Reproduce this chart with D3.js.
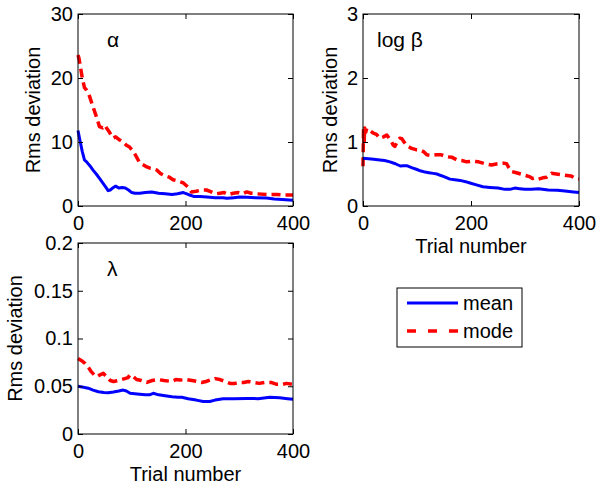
<!DOCTYPE html>
<html>
<head>
<meta charset="utf-8">
<script src="https://cdn.jsdelivr.net/npm/d3@7"></script>
<style>
  html, body { margin: 0; padding: 0; background: #fff; }
  svg { display: block; }
  text { font-family: "Liberation Sans", Arial, sans-serif; fill: #000; }
</style>
</head>
<body>
<svg id="chart" width="603" height="489"></svg>
<script>
// ---------- data ----------
const xTicks = [0, 200, 400];

const alphaTicks = [0, 10, 20, 30];
const alphaMeanT = [0,3,8,12,16,22,28,34,40,46,52,56,60,66,70,76,82,88,94,100,106,115,125,137,150,162,175,185,196,205,215,227,240,255,270,277,290,301,315,330,351,365,380,400];
const alphaMeanV = [11.8,10.5,8.5,7.2,6.9,6.3,5.6,5.0,4.3,3.6,2.9,2.4,2.5,2.9,3.1,2.8,2.9,2.8,2.5,2.1,2.0,2.0,2.1,2.2,2.0,1.9,1.8,1.9,2.1,1.8,1.5,1.5,1.4,1.3,1.3,1.2,1.3,1.4,1.35,1.3,1.25,1.1,1.0,0.9];
const alphaModeT = [0,2,4,8,12,16,20,24,28,34,40,46,50,53,58,65,70,76,84,90,96,103,108,115,122,128,134,140,147,153,160,170,177,186,196,204,211,220,230,239,248,256,264,272,280,289,298,306,314,322,333,351,370,385,400];
const alphaModeV = [23.6,23,22,20,18.5,18.1,17.5,16.5,15.5,14,12.4,12.2,12.6,12.2,11.6,10.6,10.8,10.4,10,9.5,9.2,8.5,7.8,6.7,6.4,6.1,5.9,5.8,5.6,5.1,4.8,4.5,4.1,3.9,3.6,3.0,2.2,2.3,2.5,2.5,2.2,1.9,2.0,2.1,1.8,2.0,2.1,1.9,2.2,2.0,1.9,1.8,1.8,1.7,1.7];

const betaTicks = [0, 1, 2, 3];
const betaMeanT = [0,10,20,31,40,50,60,69,75,81,90,100,106,115,122,130,137,143,150,161,170,180,190,198,210,222,235,250,263,272,281,290,300,312,325,343,360,374,390,400];
const betaMeanV = [0.745,0.74,0.73,0.72,0.71,0.69,0.66,0.625,0.63,0.63,0.6,0.57,0.55,0.53,0.52,0.51,0.5,0.48,0.46,0.42,0.41,0.40,0.38,0.36,0.33,0.30,0.29,0.28,0.26,0.26,0.28,0.27,0.26,0.26,0.27,0.25,0.245,0.235,0.22,0.21];
const betaModeT = [0,1,2,3,5,7,12,19,25,31,38,44,49,53,56,59,63,68,72,80,90,98,106,112,118,127,136,145,155,165,174,183,192,203,214,226,238,249,260,266,270,275,284,292,300,308,314,319,325,333,340,349,358,366,374,385,392,400];
const betaModeV = [0.62,1.2,0.95,1.22,1.15,1.21,1.18,1.14,1.12,1.06,1.08,1.11,1.05,1.0,0.95,0.93,1.0,1.06,1.05,0.95,0.9,0.88,0.875,0.85,0.8,0.79,0.8,0.8,0.77,0.76,0.72,0.71,0.69,0.7,0.69,0.66,0.64,0.66,0.67,0.66,0.6,0.54,0.52,0.5,0.48,0.46,0.43,0.44,0.42,0.44,0.45,0.51,0.5,0.49,0.48,0.47,0.44,0.42];

const lambdaTicks = [0, 0.05, 0.1, 0.15, 0.2];
const lambdaMeanT = [0,10,19,28,38,48,56,66,76,84,90,97,110,125,133,140,150,162,175,186,193,205,220,233,245,255,270,290,314,335,357,375,390,400];
const lambdaMeanV = [0.050,0.049,0.048,0.046,0.0443,0.0435,0.0433,0.044,0.045,0.046,0.045,0.0426,0.042,0.041,0.041,0.0426,0.041,0.040,0.039,0.0385,0.0385,0.037,0.0355,0.034,0.034,0.0355,0.037,0.037,0.0373,0.037,0.0384,0.038,0.037,0.0363];
const lambdaModeT = [0,6,13,19,25,30,35,41,47,55,60,66,75,87,93,97,103,109,118,128,138,149,160,174,182,190,202,212,222,230,238,246,255,264,274,283,292,300,308,317,326,337,348,359,370,380,388,400];
const lambdaModeV = [0.079,0.077,0.074,0.070,0.065,0.062,0.060,0.062,0.0635,0.059,0.056,0.055,0.056,0.058,0.059,0.062,0.060,0.057,0.056,0.054,0.056,0.057,0.056,0.055,0.057,0.0565,0.057,0.056,0.055,0.054,0.055,0.0565,0.058,0.057,0.055,0.053,0.053,0.054,0.054,0.055,0.054,0.053,0.054,0.054,0.052,0.052,0.053,0.052];

const seriesNames = ["mean", "mode"];

// ---------- drawing ----------
const svg = d3.select("#chart");
const FS = 20;

const panels = [
  { x0: 78, x1: 293, y0: 14, y1: 206, ymax: 30, yTicks: alphaTicks,
    mean: [alphaMeanT, alphaMeanV], mode: [alphaModeT, alphaModeV],
    label: "α", labelFont: "Liberation Serif", xlabel: false, ylabX: 40 },
  { x0: 363, x1: 579, y0: 14, y1: 206, ymax: 3, yTicks: betaTicks,
    mean: [betaMeanT, betaMeanV], mode: [betaModeT, betaModeV],
    label: "log β", labelFont: "Liberation Sans", xlabel: true, ylabX: 337 },
  { x0: 78, x1: 293, y0: 243, y1: 434, ymax: 0.2, yTicks: lambdaTicks,
    mean: [lambdaMeanT, lambdaMeanV], mode: [lambdaModeT, lambdaModeV],
    label: "λ", labelFont: "Liberation Serif", xlabel: true, ylabX: 22 }
];

panels.forEach(p => {
  const x = d3.scaleLinear().domain([0, 400]).range([p.x0, p.x1]);
  const y = d3.scaleLinear().domain([0, p.ymax]).range([p.y1, p.y0]);
  const g = svg.append("g");

  const line = d3.line().x(d => x(d[0])).y(d => y(d[1]));
  const meanPts = p.mean[0].map((t, i) => [t, p.mean[1][i]]);
  const modePts = p.mode[0].map((t, i) => [t, p.mode[1][i]]);
  g.append("path").datum(modePts).attr("d", line)
    .attr("fill", "none").attr("stroke", "#ff0000").attr("stroke-width", 3.5)
    .attr("stroke-dasharray", "9,5").attr("stroke-linejoin", "round");
  g.append("path").datum(meanPts).attr("d", line)
    .attr("fill", "none").attr("stroke", "#0000ff").attr("stroke-width", 3)
    .attr("stroke-linejoin", "round");

  const fmt = d => String(d);
  const ax = (a) => a.attr("font-size", FS).attr("font-family", "Liberation Sans, Arial, sans-serif");
  g.append("g").attr("transform", `translate(0,${p.y1})`)
    .call(d3.axisBottom(x).tickValues(xTicks).tickFormat(fmt).tickSizeInner(-5).tickSizeOuter(0).tickPadding(10))
    .call(ax);
  g.append("g").attr("transform", `translate(0,${p.y0})`)
    .call(d3.axisTop(x).tickValues(xTicks).tickFormat("").tickSizeInner(-5).tickSizeOuter(0));
  g.append("g").attr("transform", `translate(${p.x0},0)`)
    .call(d3.axisLeft(y).tickValues(p.yTicks).tickFormat(fmt).tickSizeInner(-5).tickSizeOuter(0).tickPadding(5))
    .call(ax);
  g.append("g").attr("transform", `translate(${p.x1},0)`)
    .call(d3.axisRight(y).tickValues(p.yTicks).tickFormat("").tickSizeInner(-5).tickSizeOuter(0));
  g.selectAll(".domain").remove();
  g.selectAll(".tick line").attr("stroke", "#000");
  g.selectAll(".tick text").attr("fill", "#000");

  g.append("rect").attr("x", p.x0).attr("y", p.y0)
    .attr("width", p.x1 - p.x0).attr("height", p.y1 - p.y0)
    .attr("fill", "none").attr("stroke", "#000").attr("stroke-width", 1);

  g.append("text").attr("x", x(0) + (p.label === "log β" ? 14 : 29)).attr("y", p.y0 + 33)
    .attr("font-family", p.labelFont).attr("font-size", 21).text(p.label);

  g.append("text")
    .attr("transform", `translate(${p.ylabX},${(p.y0 + p.y1) / 2}) rotate(-90)`)
    .attr("text-anchor", "middle").attr("font-size", FS).text("Rms deviation");

  if (p.xlabel) {
    g.append("text").attr("x", (p.x0 + p.x1) / 2).attr("y", p.y1 + 47)
      .attr("text-anchor", "middle").attr("font-size", FS).text("Trial number");
  }
});

// legend
const leg = svg.append("g");
leg.append("rect").attr("x", 397).attr("y", 288).attr("width", 125).attr("height", 59)
  .attr("fill", "#fff").attr("stroke", "#000").attr("stroke-width", 1);
const legStyles = [
  { color: "#0000ff", dash: null, w: 3 },
  { color: "#ff0000", dash: "9,12", w: 3.5 }
];
seriesNames.forEach((name, i) => {
  const yy = 303 + i * 28;
  const s = legStyles[i];
  const l = leg.append("line").attr("x1", 407).attr("x2", 458).attr("y1", yy).attr("y2", yy)
    .attr("stroke", s.color).attr("stroke-width", s.w);
  if (s.dash) l.attr("stroke-dasharray", s.dash);
  leg.append("text").attr("x", 463).attr("y", yy + 7).attr("font-size", FS).text(name);
});
</script>
</body>
</html>
